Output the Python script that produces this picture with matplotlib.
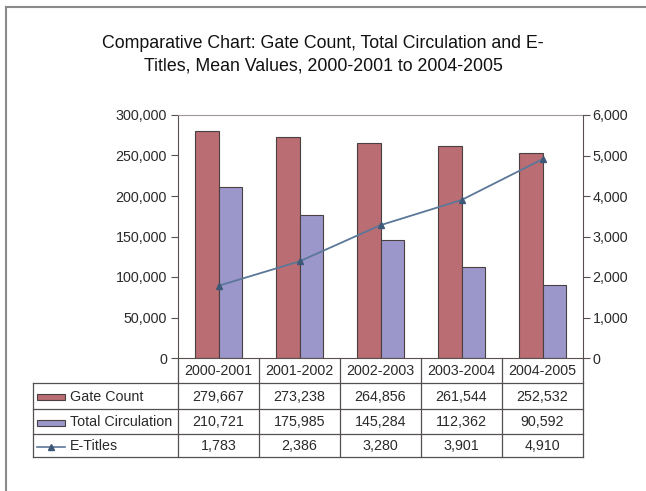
import matplotlib
matplotlib.use("Agg")
import matplotlib.pyplot as plt
from matplotlib.lines import Line2D
from matplotlib.patches import Rectangle
from matplotlib.ticker import FuncFormatter, MultipleLocator

plt.rcParams['font.family'] = ['Liberation Sans', 'DejaVu Sans']

# data
years = ['2000-2001', '2001-2002', '2002-2003', '2003-2004', '2004-2005']
gate_count = [279667, 273238, 264856, 261544, 252532]
total_circ = [210721, 175985, 145284, 112362, 90592]
e_titles = [1783, 2386, 3280, 3901, 4910]
series_names = ['Gate Count', 'Total Circulation', 'E-Titles']

red = '#ba6d72'
blue = '#9c97cb'
line_col = '#5b7799'
mark_col = '#3e5878'
edge = '#4a4040'
axis_col = '#5a5050'
txt_col = '#2a2a2a'

W, H = 646, 491
fig = plt.figure(figsize=(W / 100, H / 100), dpi=100)

def px(x0, y0, x1, y1):
    # pixel box -> figure fraction
    return [x0 / W, 1 - y1 / H, (x1 - x0) / W, (y1 - y0) / H]

# outer frame (cut at right/bottom like the screenshot)
fig.add_artist(Line2D([5.5 / W, 5.5 / W], [0, 1 - 7 / H], color='#8a8a8a', lw=1.5))
fig.add_artist(Line2D([5.5 / W, 1], [1 - 7 / H, 1 - 7 / H], color='#8a8a8a', lw=1.5))

fig.text(323 / W, 1 - 54.5 / H,
         'Comparative Chart: Gate Count, Total Circulation and E-\nTitles, Mean Values, 2000-2001 to 2004-2005',
         ha='center', va='center', fontsize=12.8, color='#111111', linespacing=1.4)

ax = fig.add_axes(px(178, 115, 583, 358))
x = list(range(len(years)))
bw = 0.29
ax.bar([i - bw / 2 for i in x], gate_count, bw, color=red, edgecolor=edge, linewidth=0.8, zorder=2)
ax.bar([i + bw / 2 for i in x], total_circ, bw, color=blue, edgecolor=edge, linewidth=0.8, zorder=2)
ax.set_xlim(-0.5, len(years) - 0.5)
ax.set_ylim(0, 300000)
ax.yaxis.set_major_locator(MultipleLocator(50000))
ax.yaxis.set_major_formatter(FuncFormatter(lambda v, p: f'{int(v):,}'))
ax.set_xticks([i + 0.5 for i in x[:-1]])
ax.set_xticklabels([])
ax.tick_params(axis='x', length=0)
ax.tick_params(axis='y', direction='out', length=5, colors=axis_col, labelcolor=txt_col,
               labelsize=10.3, pad=3)
for s in ['left', 'bottom']:
    ax.spines[s].set_color(axis_col)
ax.spines['top'].set_color('#a09898')
ax.spines['right'].set_visible(False)

ax2 = ax.twinx()
ax2.plot(x, e_titles, color=line_col, lw=1.3, marker='^', markersize=5,
         markerfacecolor=mark_col, markeredgecolor=mark_col, zorder=3)
ax2.set_ylim(0, 6000)
ax2.yaxis.set_major_locator(MultipleLocator(1000))
ax2.yaxis.set_major_formatter(FuncFormatter(lambda v, p: f'{int(v):,}'))
ax2.tick_params(axis='y', direction='out', length=5, colors=axis_col, labelcolor=txt_col,
                labelsize=10.3, pad=2)
ax2.spines['right'].set_color(axis_col)
for s in ['left', 'top', 'bottom']:
    ax2.spines[s].set_visible(False)

# data table below the plot
tab_left = 33
cat_w = (583 - 178) / len(years)
tax = fig.add_axes(px(tab_left, 358, 583, 457))
x_left = -0.5 - (178 - tab_left) / cat_w
tax.set_xlim(x_left, len(years) - 0.5)
row_edges = [0, 25, 51, 76, 99]
tax.set_ylim(row_edges[-1], row_edges[0])
tax.axis('off')
lc = '#555050'
lw = 0.9
# vertical lines
for k in range(len(years) + 1):
    tax.plot([k - 0.5, k - 0.5], [row_edges[0], row_edges[-1]], color=lc, lw=lw, clip_on=False)
tax.plot([x_left, x_left], [row_edges[1], row_edges[-1]], color=lc, lw=lw, clip_on=False)
# horizontal lines
for r in row_edges[1:]:
    tax.plot([x_left, len(years) - 0.5], [r, r], color=lc, lw=lw, clip_on=False)

tfs = 10.3
for i, yr in enumerate(years):
    tax.text(i, (row_edges[0] + row_edges[1]) / 2 + 0.5, yr, ha='center', va='center', fontsize=tfs, color=txt_col)
rows = [gate_count, total_circ, e_titles]
for r, vals in enumerate(rows):
    yc = (row_edges[r + 1] + row_edges[r + 2]) / 2 + 1
    for i, v in enumerate(vals):
        tax.text(i, yc, f'{v:,}', ha='center', va='center', fontsize=tfs, color=txt_col)
    tax.text(x_left + 37 / cat_w, yc, series_names[r], ha='left', va='center', fontsize=tfs, color=txt_col)

# legend keys
k0 = x_left + 4 / cat_w
k1 = x_left + 32 / cat_w
for r, col in enumerate([red, blue]):
    yc = (row_edges[r + 1] + row_edges[r + 2]) / 2 + 1
    tax.add_patch(Rectangle((k0, yc - 3), k1 - k0, 6, facecolor=col, edgecolor=edge, lw=0.8))
yc = (row_edges[3] + row_edges[4]) / 2 + 1
tax.plot([k0, k1], [yc, yc], color=line_col, lw=1.2)
tax.plot([(k0 + k1) / 2], [yc], marker='^', markersize=4.5, color=mark_col)

fig.savefig('out.png', dpi=100)
